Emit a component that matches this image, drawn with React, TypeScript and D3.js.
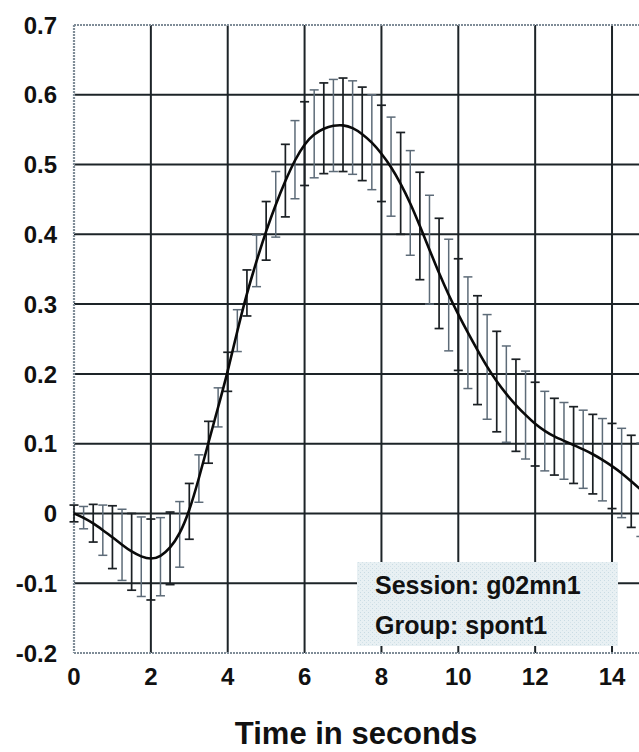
import React from "react";
import * as d3 from "d3";

const times = [
  0, 0.25, 0.5, 0.75, 1, 1.25, 1.5, 1.75, 2, 2.25, 2.5, 2.75, 3, 3.25, 3.5, 3.75,
  4, 4.25, 4.5, 4.75, 5, 5.25, 5.5, 5.75, 6, 6.25, 6.5, 6.75, 7, 7.25, 7.5, 7.75,
  8, 8.25, 8.5, 8.75, 9, 9.25, 9.5, 9.75, 10, 10.25, 10.5, 10.75, 11, 11.25, 11.5, 11.75,
  12, 12.25, 12.5, 12.75, 13, 13.25, 13.5, 13.75, 14, 14.25, 14.5, 14.75, 15,
];

const meanValues = [
  0.0, -0.006, -0.014, -0.024, -0.034, -0.045, -0.055, -0.062, -0.066, -0.062, -0.05, -0.03, 0.003, 0.05, 0.102, 0.152,
  0.203, 0.262, 0.316, 0.362, 0.405, 0.443, 0.477, 0.507, 0.53, 0.544, 0.552, 0.556, 0.557, 0.553, 0.544, 0.532,
  0.516, 0.497, 0.473, 0.445, 0.412, 0.378, 0.344, 0.313, 0.285, 0.259, 0.234, 0.21, 0.189, 0.171, 0.155, 0.141,
  0.128, 0.118, 0.11, 0.104, 0.098, 0.092, 0.085, 0.077, 0.068, 0.058, 0.046, 0.034, 0.022,
];

const errValues = [
  0.012, 0.016, 0.027, 0.036, 0.045, 0.051, 0.055, 0.057, 0.058, 0.056, 0.052, 0.047, 0.04, 0.034, 0.03, 0.028,
  0.028, 0.03, 0.033, 0.037, 0.042, 0.047, 0.052, 0.056, 0.06, 0.063, 0.065, 0.066, 0.067, 0.067, 0.067, 0.068,
  0.069, 0.071, 0.073, 0.075, 0.077, 0.078, 0.079, 0.08, 0.08, 0.08, 0.078, 0.075, 0.072, 0.069, 0.066, 0.063,
  0.06, 0.057, 0.055, 0.055, 0.055, 0.056, 0.057, 0.059, 0.061, 0.064, 0.066, 0.067, 0.068,
];

const xTicks = [0, 2, 4, 6, 8, 10, 12, 14];
const yTicks = [-0.2, -0.1, 0, 0.1, 0.2, 0.3, 0.4, 0.5, 0.6, 0.7];
const legendLines = ["Session: g02mn1", "Group: spont1"];
const xTitle = "Time in seconds";

const W = 639;
const H = 752;
const FONT = "'Liberation Sans', Arial, Helvetica, sans-serif";

export default function App() {
  const x = d3.scaleLinear().domain([0, 16]).range([74, 74 + 16 * 38.43]);
  const y = d3.scaleLinear().domain([-0.2, 0.7]).range([653, 25]);

  const pts = times.map((t, i) => ({ t, m: meanValues[i], e: errValues[i] }));
  const line = d3
    .line<{ t: number; m: number }>()
    .x((d) => x(d.t))
    .y((d) => y(d.m))
    .curve(d3.curveBasis);

  const gridColor = "#1d2428";
  const borderColor = "#7f8c97";
  const capW = 4.5;

  const legendX = 357;
  const legendY = 562;
  const legendW = 261;
  const legendH = 84;

  return (
    <svg
      width={W}
      height={H}
      style={{ position: "absolute", left: 0, top: 0, background: "#fff" }}
    >
      <defs>
        <pattern id="tex" width="4" height="4" patternUnits="userSpaceOnUse">
          <rect width="4" height="4" fill="#e8f0f3" />
          <rect x="0" y="0" width="1" height="1" fill="#c9dbe3" />
          <rect x="2" y="2" width="1" height="1" fill="#d3e2e8" />
        </pattern>
      </defs>

      {yTicks
        .filter((v) => v > -0.2 && v < 0.7)
        .map((v) => (
          <line key={"hy" + v} x1={x(0)} x2={W} y1={y(v)} y2={y(v)} stroke={gridColor} strokeWidth={2} />
        ))}
      {[...xTicks.filter((v) => v > 0), 16].map((v) => (
        <line key={"vx" + v} x1={x(v)} x2={x(v)} y1={y(0.7)} y2={y(-0.2)} stroke={gridColor} strokeWidth={2} />
      ))}

      <line x1={x(0)} x2={W} y1={y(0.7)} y2={y(0.7)} stroke={borderColor} strokeWidth={2.2} strokeDasharray="2 1" />
      <line x1={x(0)} x2={W} y1={y(-0.2)} y2={y(-0.2)} stroke={borderColor} strokeWidth={2.2} strokeDasharray="2 1" />
      <line x1={x(0)} x2={x(0)} y1={y(0.7)} y2={y(-0.2)} stroke={borderColor} strokeWidth={2.2} strokeDasharray="2 1" />

      {pts.map((d, i) => {
        const cx = x(d.t);
        const top = y(d.m + d.e);
        const bot = y(d.m - d.e);
        const col = i % 2 === 0 ? "#1b2024" : "#5d6b78";
        const sw = i % 2 === 0 ? 1.7 : 1.5;
        return (
          <g key={"eb" + i} stroke={col} strokeWidth={sw}>
            <line x1={cx} x2={cx} y1={top} y2={bot} />
            <line x1={cx - capW} x2={cx + capW} y1={top} y2={top} />
            <line x1={cx - capW} x2={cx + capW} y1={bot} y2={bot} />
          </g>
        );
      })}

      <path d={line(pts) || ""} fill="none" stroke="#0a0a0a" strokeWidth={2.6} />

      <rect x={legendX} y={legendY} width={legendW} height={legendH} fill="url(#tex)" />
      {legendLines.map((s, i) => (
        <text
          key={s}
          x={legendX + 18}
          y={legendY + 32 + i * 40}
          fontFamily={FONT}
          fontWeight="bold"
          fontSize={25}
          fill="#111"
        >
          {s}
        </text>
      ))}

      {yTicks.map((v) => (
        <text
          key={"yl" + v}
          x={57}
          y={y(v)}
          dy="0.36em"
          textAnchor="end"
          fontFamily={FONT}
          fontWeight="bold"
          fontSize={24}
          fill="#111"
        >
          {v === 0 ? "0" : d3.format(".1f")(v).replace("−", "-")}
        </text>
      ))}

      {xTicks.map((v) => (
        <text
          key={"xl" + v}
          x={x(v)}
          y={685}
          textAnchor="middle"
          fontFamily={FONT}
          fontWeight="bold"
          fontSize={24}
          fill="#111"
        >
          {v}
        </text>
      ))}

      <text
        x={356}
        y={744}
        textAnchor="middle"
        fontFamily={FONT}
        fontWeight="bold"
        fontSize={31}
        fill="#111"
      >
        {xTitle}
      </text>
    </svg>
  );
}
